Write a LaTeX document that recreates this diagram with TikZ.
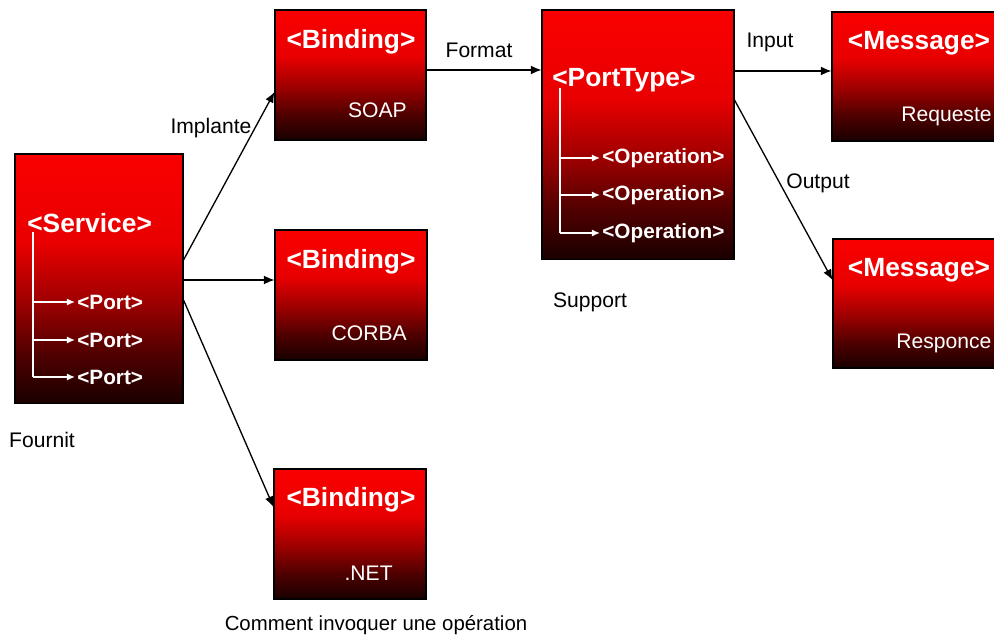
\documentclass[tikz,border=0pt]{standalone}
\usepackage{fontspec}
\setmainfont{Liberation Sans}
\usetikzlibrary{arrows.meta,calc}

\definecolor{rtop}{RGB}{250,0,0}
\definecolor{rhigh}{RGB}{232,0,0}
\definecolor{rmid}{RGB}{155,0,0}
\definecolor{rlow}{RGB}{80,0,0}
\definecolor{rdark}{RGB}{25,0,0}
\pgfdeclareverticalshading{redfade}{100bp}{color(0bp)=(rdark); color(25bp)=(rdark); color(35bp)=(rlow); color(45bp)=(rmid); color(57bp)=(rhigh); color(75bp)=(rtop); color(100bp)=(rtop)}

\begin{document}
\begin{tikzpicture}[x=0.02cm,y=-0.02cm,
  wsdlbox/.style={draw=black,line width=0.6pt,shade,shading=redfade,inner sep=0pt},
  tagtext/.style={text=white,font=\bfseries\fontsize{15}{18}\selectfont,inner sep=0pt},
  subtag/.style={text=white,font=\bfseries\fontsize{11.8}{14}\selectfont,inner sep=0pt,anchor=west},
  boxlabel/.style={text=white,font=\fontsize{12}{14}\selectfont,inner sep=0pt},
  lbl/.style={font=\fontsize{12}{14}\selectfont,inner sep=0pt},
  conn/.style={draw=black,line width=0.75pt,-{Latex[length=6pt,width=5pt]}},
  tree/.style={draw=white,line width=0.7pt},
  branch/.style={draw=white,line width=0.7pt,-{Latex[length=4.5pt,width=4pt]}}]
\useasboundingbox (0,0) rectangle (994,644);
\clip (0,0) rectangle (994,644);

% boxes
\node [wsdlbox,minimum width=3.36cm,minimum height=5cm] (service) at (99,279) {};
\node [wsdlbox,minimum width=3.02cm,minimum height=2.6cm] (soap) at (350.5,75) {};
\node [wsdlbox,minimum width=3.04cm,minimum height=2.6cm] (corba) at (351,295) {};
\node [wsdlbox,minimum width=3.04cm,minimum height=2.6cm] (dotnet) at (350,534) {};
\node [wsdlbox,minimum width=3.84cm,minimum height=5cm] (porttype) at (638,135) {};
\node [wsdlbox,minimum width=3.44cm,minimum height=2.58cm] (request) at (918,76.5) {};
\node [wsdlbox,minimum width=3.44cm,minimum height=2.58cm] (response) at (919,303.5) {};

% Service
\node [tagtext,anchor=west] (svtag) at (27,223) {<Service>};
\coordinate (svroot) at (33,232);
\node [subtag] (port1) at (77,302) {<Port>};
\node [subtag] (port2) at (77,340) {<Port>};
\node [subtag] (port3) at (77,377) {<Port>};
\draw [tree] (svroot) -- (svroot |- port3);
\foreach \p in {port1,port2,port3}
  \draw [branch] (svroot |- \p) -- ([xshift=-1.2pt]\p.west);

% Bindings
\node [tagtext] (soaptag) at (351,42) {<Binding>};
\node [boxlabel,anchor=east] (soapname) at (407,110) {SOAP};
\node [tagtext] (corbatag) at (351,262) {<Binding>};
\node [boxlabel,anchor=east] (corbaname) at (407,333) {CORBA};
\node [tagtext] (nettag) at (351,500) {<Binding>};
\node [boxlabel,anchor=east] (netname) at (393,573) {.NET};

% PortType
\node [tagtext,anchor=west] (pttag) at (552,80) {<PortType>};
\coordinate (ptroot) at (560,88);
\node [subtag] (op1) at (602,158) {<Operation>};
\node [subtag] (op2) at (602,195) {<Operation>};
\node [subtag] (op3) at (602,233) {<Operation>};
\draw [tree] (ptroot) -- (ptroot |- op3);
\foreach \p in {op1,op2,op3}
  \draw [branch] (ptroot |- \p) -- ([xshift=-1.2pt]\p.west);

% Messages
\node [tagtext] (reqtag) at (919,43) {<Message>};
\node [boxlabel,anchor=west] (reqname) at (901,116) {Requeste};
\node [tagtext] (restag) at (919,270) {<Message>};
\node [boxlabel,anchor=west] (resname) at (896,343) {Responce};

% connectors
\draw [conn] ($(service.east)+(0,-19)$) -- ($(soap.west)+(0,17)$);
\draw [conn] ($(service.east)+(0,1)$) -- ($(corba.west)+(0,-15)$);
\draw [conn] ($(service.east)+(0,21)$) -- ($(dotnet.west)+(0,-27)$);
\draw [conn] ($(soap.east)+(0,-5)$) -- ($(porttype.west)+(0,-65)$);
\draw [conn] ($(porttype.east)+(0,-64)$) -- ($(request.west)+(0,-5.5)$);
\draw [conn] ($(porttype.east)+(0,-35)$) -- ($(response.west)+(0,-23.5)$);

% labels
\node [lbl] (implante) at (211,128) {Implante};
\node [lbl] (format) at (479,50) {Format};
\node [lbl] (input) at (770,42) {Input};
\node [lbl] (output) at (818,183) {Output};
\node [lbl] (support) at (590,302) {Support};
\node [lbl] (fournit) at (42,440) {Fournit};
\node [lbl,font=\fontsize{11.6}{14}\selectfont] (comment) at (376,625) {Comment invoquer une opération};
\end{tikzpicture}
\end{document}
